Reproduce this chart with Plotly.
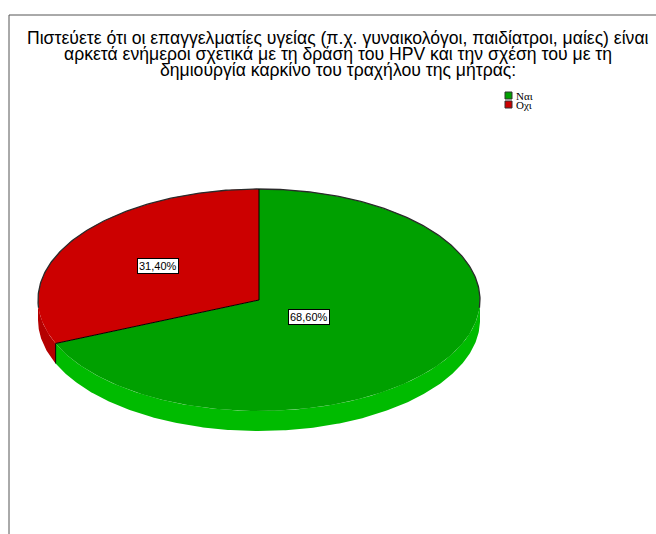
import math
import plotly.graph_objects as go

# ---- data -------------------------------------------------------------
categories = ["Ναι", "Οχι"]
percentages = [68.6, 31.4]
title_lines = [
    "Πιστεύετε ότι οι επαγγελματίες υγείας (π.χ. γυναικολόγοι, παιδίατροι, μαίες) είναι",
    "αρκετά ενήμεροι σχετικά με τη δράση του HPV και την σχέση του με τη",
    "δημιουργία καρκίνο του τραχήλου της μήτρας:",
]

# ---- styling / geometry -------------------------------------------------
W, H = 656, 534
top_colors = ["#00a000", "#cc0000"]
side_colors = ["#00bb00", "#b50000"]
label_radius = [0.27, 0.55]          # label distance from centre, as a share of the radius
CX, CY, RX, RY, DEPTH = 259, 300, 221, 111, 20
START = 90.0                          # first slice starts at 12 o'clock, runs clockwise


def pt(deg, dy=0.0):
    r = math.radians(deg)
    return CX + RX * math.cos(r), CY - RY * math.sin(r) + dy


def arc(a, b, dy=0.0, n=240):
    xs, ys = [], []
    for i in range(n + 1):
        x, y = pt(a + (b - a) * i / n, dy)
        xs.append(x)
        ys.append(y)
    return xs, ys


fig = go.Figure()

# slice angle spans (degrees, decreasing = clockwise on screen)
total = sum(percentages)
spans = []
a = START
for p in percentages:
    b = a - 360.0 * p / total
    spans.append((a, b))
    a = b

# side walls: only the front half (angles in [-180, 0]) is visible
for (a0, a1), col in zip(spans, side_colors):
    hi, lo = min(a0, 0.0), max(a1, -180.0)
    if hi <= lo:
        continue
    tx, ty = arc(hi, lo)
    bx, by = arc(lo, hi, DEPTH)
    fig.add_trace(go.Scatter(x=tx + bx, y=ty + by, fill="toself", fillcolor=col,
                             mode="lines", line=dict(width=0), hoverinfo="skip",
                             showlegend=False))

# top faces
for (a0, a1), col in zip(spans, top_colors):
    ax_, ay_ = arc(a0, a1)
    fig.add_trace(go.Scatter(x=[CX] + ax_ + [CX], y=[CY] + ay_ + [CY], fill="toself",
                             fillcolor=col, mode="lines", line=dict(width=0),
                             hoverinfo="skip", showlegend=False))

# back rim outline
bx_, by_ = arc(-4, 184)
fig.add_trace(go.Scatter(x=bx_, y=by_, mode="lines", line=dict(color="#2a2a2a", width=1.3),
                         hoverinfo="skip", showlegend=False))

# slice boundaries on the top face, plus the vertical seam on the side wall
for a0, _ in spans:
    ex, ey = pt(a0)
    fig.add_trace(go.Scatter(x=[CX, ex], y=[CY, ey], mode="lines",
                             line=dict(color="black", width=1), hoverinfo="skip",
                             showlegend=False))
    if math.sin(math.radians(a0)) < 0:
        fig.add_trace(go.Scatter(x=[ex, ex], y=[ey, ey + DEPTH], mode="lines",
                                 line=dict(color="black", width=1), hoverinfo="skip",
                                 showlegend=False))

annotations = []
# percentage labels
for (a0, a1), p, f in zip(spans, percentages, label_radius):
    mid = math.radians((a0 + a1) / 2)
    lx = CX + f * RX * math.cos(mid)
    ly = CY - f * RY * math.sin(mid)
    annotations.append(dict(x=lx, y=ly, xref="x", yref="y", showarrow=False,
                            text=f"{p:.2f}%".replace(".", ","),
                            font=dict(family="Liberation Sans, Arial", size=11, color="black"),
                            bgcolor="white", bordercolor="black", borderwidth=1, borderpad=1))

# title, one annotation per line for tight line spacing
for i, line in enumerate(title_lines):
    annotations.append(dict(x=338, y=38 + 16 * i, xref="x", yref="y", showarrow=False,
                            text=line, xanchor="center", yanchor="middle",
                            font=dict(family="Liberation Sans, Arial", size=17.6, color="black")))

# legend
shapes = []
for i, (cat, col) in enumerate(zip(categories, top_colors)):
    y0 = 92 + 9 * i
    shapes.append(dict(type="rect", xref="x", yref="y", x0=505, x1=512, y0=y0, y1=y0 + 7,
                       fillcolor=col, line=dict(color="#333333", width=1)))
    annotations.append(dict(x=514, y=y0 + 3.5, xref="x", yref="y", showarrow=False,
                            text=cat, xanchor="left", yanchor="middle",
                            font=dict(family="Liberation Serif, Times New Roman", size=11,
                                      color="black")))

# chart frame (top and left edges)
shapes.append(dict(type="line", xref="x", yref="y", x0=9, x1=W, y0=15, y1=15,
                   line=dict(color="#555555", width=1)))
shapes.append(dict(type="line", xref="x", yref="y", x0=9, x1=9, y0=15, y1=H,
                   line=dict(color="#555555", width=1)))

fig.update_layout(
    width=W, height=H, margin=dict(l=0, r=0, t=0, b=0),
    paper_bgcolor="white", plot_bgcolor="white",
    xaxis=dict(range=[0, W], visible=False, fixedrange=True),
    yaxis=dict(range=[H, 0], visible=False, fixedrange=True),
    annotations=annotations, shapes=shapes, showlegend=False,
)

fig.write_html("out.html")
